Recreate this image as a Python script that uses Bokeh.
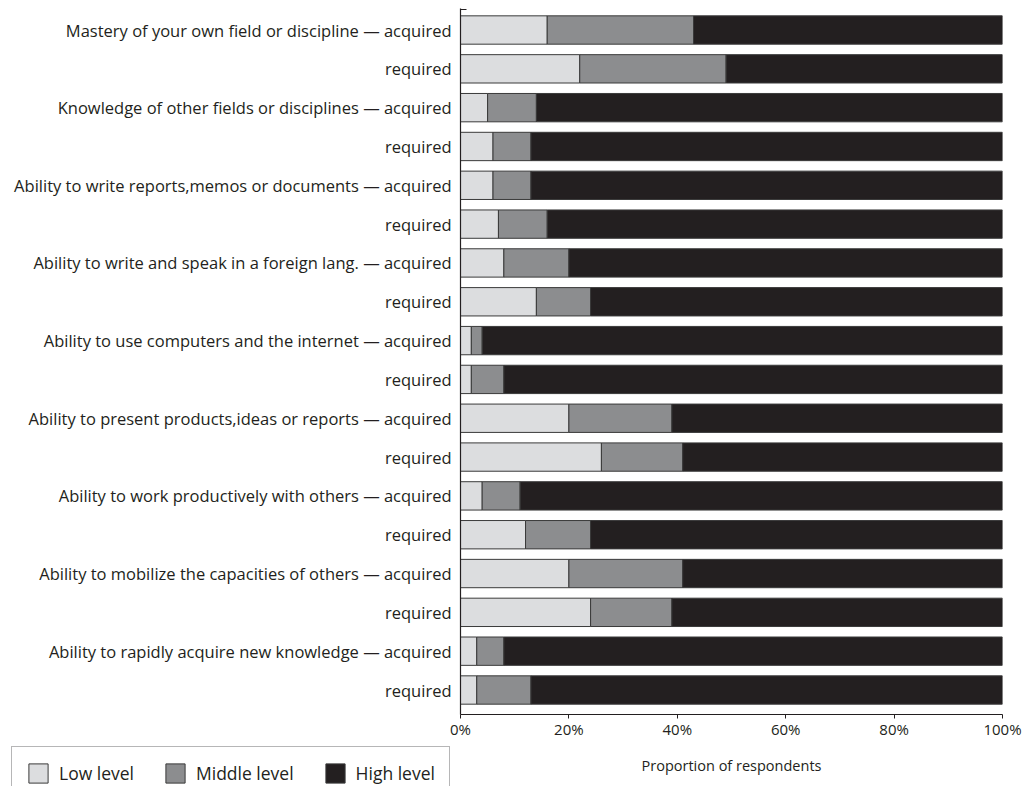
from bokeh.plotting import figure
from bokeh.models import ColumnDataSource, FixedTicker, Legend, LegendItem, Range1d, Label
from bokeh.layouts import column, row
from bokeh.embed import file_html
from bokeh.resources import INLINE

labels = [
    "Mastery of your own field or discipline \u2014 acquired",
    "required",
    "Knowledge of other fields or disciplines \u2014 acquired",
    "required",
    "Ability to write reports,memos or documents \u2014 acquired",
    "required",
    "Ability to write and speak in a foreign lang. \u2014 acquired",
    "required",
    "Ability to use computers and the internet \u2014 acquired",
    "required",
    "Ability to present products,ideas or reports \u2014 acquired",
    "required",
    "Ability to work productively with others \u2014 acquired",
    "required",
    "Ability to mobilize the capacities of others \u2014 acquired",
    "required",
    "Ability to rapidly acquire new knowledge \u2014 acquired",
    "required",
]
low = [16, 22, 5, 6, 6, 7, 8, 14, 2, 2, 20, 26, 4, 12, 20, 24, 3, 3]
middle = [27, 27, 9, 7, 7, 9, 12, 10, 2, 6, 19, 15, 7, 12, 21, 15, 5, 10]
high = [100 - a - b for a, b in zip(low, middle)]
series_names = ["Low level", "Middle level", "High level"]
x_ticks = [0, 20, 40, 60, 80, 100]
x_tick_labels = ["0%", "20%", "40%", "60%", "80%", "100%"]
x_title = "Proportion of respondents"

FONT = "Open Sans"
TXT = "#231f20"
colors = ["#dcdddf", "#8c8d8f", "#231f20"]
OUTLINE = "#3a3a3a"

n = len(labels)
ypos = [n - 1 - i for i in range(n)]
src = ColumnDataSource(dict(y=ypos, low=low, middle=middle, high=high))

p = figure(
    output_backend="svg", toolbar_location=None,
    frame_width=542, frame_height=706,
    min_border_left=460, min_border_right=33, min_border_top=8, min_border_bottom=32,
    x_range=Range1d(0, 100), y_range=Range1d(-0.631, n - 1 + 0.554),
)
p.outline_line_color = None
p.xgrid.visible = False
p.ygrid.visible = False

rends = p.hbar_stack(["low", "middle", "high"], y="y", height=0.73, color=colors,
                     line_color=OUTLINE, line_width=1, source=src)

ya = p.yaxis[0]
ya.ticker = FixedTicker(ticks=ypos, minor_ticks=[n - 1 + 0.54])
ya.major_label_overrides = {y: lab for y, lab in zip(ypos, labels)}
ya.major_tick_in = 0
ya.major_tick_out = 0
ya.minor_tick_in = 6
ya.minor_tick_out = 0
ya.minor_tick_line_color = TXT
ya.major_label_text_font = FONT
ya.major_label_text_font_size = "16.5px"
ya.major_label_text_color = TXT
ya.major_label_standoff = 9
ya.axis_line_color = TXT
ya.axis_line_width = 1.2

xa = p.xaxis[0]
xa.ticker = FixedTicker(ticks=x_ticks, minor_ticks=[])
xa.major_label_overrides = {t: l for t, l in zip(x_ticks, x_tick_labels)}
xa.major_tick_in = 0
xa.major_tick_out = 4
xa.major_tick_line_color = TXT
xa.axis_line_color = TXT
xa.axis_line_width = 1.2
xa.major_label_text_font = FONT
xa.major_label_text_font_size = "15px"
xa.major_label_text_color = TXT
xa.major_label_standoff = 0

# legend panel (bottom-left)
pl = figure(output_backend="svg", toolbar_location=None, width=460, height=40,
            min_border=0, x_axis_location=None, y_axis_location=None,
            x_range=Range1d(0, 1), y_range=Range1d(0, 1))
pl.outline_line_color = None
pl.xgrid.visible = False
pl.ygrid.visible = False
dummies = [pl.hbar(y=[-10], left=[0], right=[0], height=0.1, fill_color=c,
                   line_color=OUTLINE, line_width=1) for c in colors]
legend = Legend(
    items=[LegendItem(label=nm, renderers=[r]) for nm, r in zip(series_names, dummies)],
    orientation="horizontal",
    location=(11, -14),
    margin=0, padding=14,
    glyph_width=24, glyph_height=24,
    label_text_font=FONT, label_text_font_size="17.5px", label_text_color=TXT,
    label_standoff=9, spacing=29,
    border_line_color="#6d6e70", border_line_width=1.2,
)
pl.add_layout(legend)

# axis title panel
pt = figure(output_backend="svg", toolbar_location=None, width=575, height=40,
            min_border=0, x_axis_location=None, y_axis_location=None,
            x_range=Range1d(0, 1), y_range=Range1d(0, 1))
pt.outline_line_color = None
pt.xgrid.visible = False
pt.ygrid.visible = False
pt.add_layout(Label(x=271, y=21, x_units="screen", y_units="screen", text=x_title,
                    text_align="center", text_baseline="middle", text_font=FONT,
                    text_font_size="14.5px", text_color=TXT))

layout = column(p, row(pl, pt))
open("out.html", "w").write(file_html(layout, INLINE))
